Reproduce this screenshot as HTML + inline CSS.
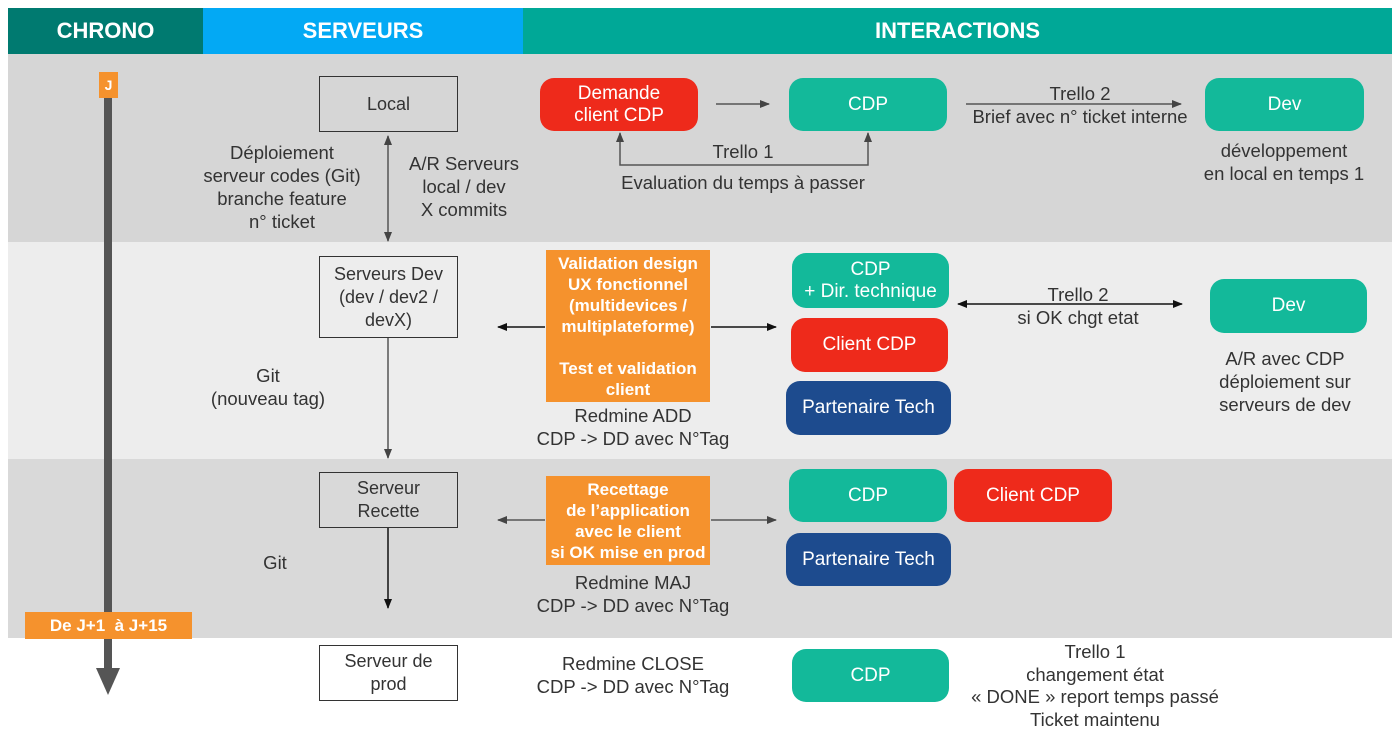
<!DOCTYPE html>
<html><head><meta charset="utf-8"><style>
*{margin:0;padding:0;box-sizing:border-box}
body{width:1400px;height:746px;background:#fff;position:relative;overflow:hidden;font-family:"Liberation Sans",sans-serif;color:#333}
.a{position:absolute}
.h{position:absolute;top:8px;height:46px;color:#fff;font-weight:bold;font-size:22px;display:flex;align-items:center;justify-content:center}
.box{position:absolute;border:1.5px solid #333;display:flex;align-items:center;justify-content:center;text-align:center;font-size:18px;line-height:23px;background:transparent}
.p{position:absolute;border-radius:14px;display:flex;align-items:center;justify-content:center;text-align:center;color:#fff;font-size:19px;line-height:22px}
.t{background:#13b99a}.r{background:#ee2a1b}.b{background:#1d4b8e}
.o{position:absolute;background:#f5922d;color:#fff;font-weight:bold;font-size:17px;line-height:21px;text-align:center;display:flex;align-items:center;justify-content:center;white-space:nowrap}
.tx{position:absolute;text-align:center;font-size:18.5px;line-height:23px;white-space:nowrap;transform:translateX(-50%)}
</style></head><body>
<div class="a" style="left:8px;top:54px;width:1384px;height:188px;background:#d6d6d6"></div>
<div class="a" style="left:8px;top:242px;width:1384px;height:217px;background:#ededed"></div>
<div class="a" style="left:8px;top:459px;width:1384px;height:179px;background:#d9d9d9"></div>
<div class="h" style="left:8px;width:195px;background:#007a70">CHRONO</div>
<div class="h" style="left:203px;width:320px;background:#03a9f4">SERVEURS</div>
<div class="h" style="left:523px;width:869px;background:#00a897">INTERACTIONS</div>

<svg class="a" style="left:0;top:0" width="1400" height="746">
<defs>
<marker id="m" markerWidth="10" markerHeight="8" refX="9" refY="4" orient="auto-start-reverse" markerUnits="userSpaceOnUse"><path d="M0,0L10,4L0,8z" fill="#444"/></marker>
<marker id="k" markerWidth="10" markerHeight="8" refX="9" refY="4" orient="auto-start-reverse" markerUnits="userSpaceOnUse"><path d="M0,0L10,4L0,8z" fill="#111"/></marker>
</defs>
<rect x="104" y="98" width="8" height="572" fill="#555"/>
<path d="M96,668L120,668L108,695z" fill="#555"/>
<g stroke="#555" stroke-width="1.5" fill="none">
<line x1="388" y1="136" x2="388" y2="241" marker-start="url(#m)" marker-end="url(#m)"/>
<line x1="388" y1="338" x2="388" y2="458" marker-end="url(#m)"/>
<line x1="716" y1="104" x2="769" y2="104" marker-end="url(#m)"/>
<line x1="966" y1="104" x2="1181" y2="104" marker-end="url(#m)"/>
<polyline points="620,133 620,165 868,165 868,133" marker-start="url(#m)" marker-end="url(#m)"/>
<line x1="498" y1="520" x2="545" y2="520" marker-start="url(#m)"/>
<line x1="711" y1="520" x2="776" y2="520" marker-end="url(#m)"/>
</g>
<g stroke="#111" stroke-width="1.5" fill="none">
<line x1="388" y1="528" x2="388" y2="608" marker-end="url(#k)"/>
<line x1="498" y1="327" x2="545" y2="327" marker-start="url(#k)"/>
<line x1="711" y1="327" x2="776" y2="327" marker-end="url(#k)"/>
<line x1="958" y1="304" x2="1182" y2="304" marker-start="url(#k)" marker-end="url(#k)"/>
</g>
</svg>

<div class="o" style="left:99px;top:72px;width:19px;height:26px;font-size:14px">J</div>
<div class="o" style="left:25px;top:612px;width:167px;height:27px;font-size:17px">De J+1&nbsp; à J+15</div>

<div class="box" style="left:319px;top:76px;width:139px;height:56px">Local</div>
<div class="box" style="left:319px;top:256px;width:139px;height:82px">Serveurs Dev<br>(dev / dev2 /<br>devX)</div>
<div class="box" style="left:319px;top:472px;width:139px;height:56px">Serveur<br>Recette</div>
<div class="box" style="left:319px;top:645px;width:139px;height:56px;background:#fff">Serveur de<br>prod</div>

<div class="tx" style="left:282px;top:141px">Déploiement<br>serveur codes (Git)<br>branche feature<br>n° ticket</div>
<div class="tx" style="left:464px;top:152px">A/R Serveurs<br>local / dev<br>X commits</div>
<div class="tx" style="left:268px;top:364px">Git<br>(nouveau tag)</div>
<div class="tx" style="left:275px;top:551px">Git</div>

<div class="p r" style="left:540px;top:78px;width:158px;height:53px">Demande<br>client CDP</div>
<div class="p t" style="left:789px;top:78px;width:158px;height:53px">CDP</div>
<div class="p t" style="left:1205px;top:78px;width:159px;height:53px">Dev</div>
<div class="tx" style="left:1080px;top:82px">Trello 2<br>Brief avec n° ticket interne</div>
<div class="tx" style="left:1284px;top:139px">développement<br>en local en temps 1</div>
<div class="tx" style="left:743px;top:140px">Trello 1</div>
<div class="tx" style="left:743px;top:171px">Evaluation du temps à passer</div>

<div class="o" style="left:546px;top:250px;width:164px;height:152px">Validation design<br>UX fonctionnel<br>(multidevices /<br>multiplateforme)<br><br>Test et validation<br>client</div>
<div class="tx" style="left:633px;top:404px">Redmine ADD<br>CDP -&gt; DD avec N°Tag</div>
<div class="p t" style="left:792px;top:253px;width:157px;height:55px">CDP<br>+ Dir. technique</div>
<div class="p r" style="left:791px;top:318px;width:157px;height:54px">Client CDP</div>
<div class="p b" style="left:786px;top:381px;width:165px;height:54px">Partenaire Tech</div>
<div class="tx" style="left:1078px;top:283px">Trello 2<br>si OK chgt etat</div>
<div class="p t" style="left:1210px;top:279px;width:157px;height:54px">Dev</div>
<div class="tx" style="left:1285px;top:347px">A/R avec CDP<br>déploiement sur<br>serveurs de dev</div>

<div class="o" style="left:546px;top:476px;width:164px;height:89px">Recettage<br>de l’application<br>avec le client<br>si OK mise en prod</div>
<div class="tx" style="left:633px;top:571px">Redmine MAJ<br>CDP -&gt; DD avec N°Tag</div>
<div class="p t" style="left:789px;top:469px;width:158px;height:53px">CDP</div>
<div class="p r" style="left:954px;top:469px;width:158px;height:53px">Client CDP</div>
<div class="p b" style="left:786px;top:533px;width:165px;height:53px">Partenaire Tech</div>

<div class="tx" style="left:633px;top:652px">Redmine CLOSE<br>CDP -&gt; DD avec N°Tag</div>
<div class="p t" style="left:792px;top:649px;width:157px;height:53px">CDP</div>
<div class="tx" style="left:1095px;top:641px;line-height:22.5px">Trello 1<br>changement état<br>« DONE » report temps passé<br>Ticket maintenu</div>
</body></html>
